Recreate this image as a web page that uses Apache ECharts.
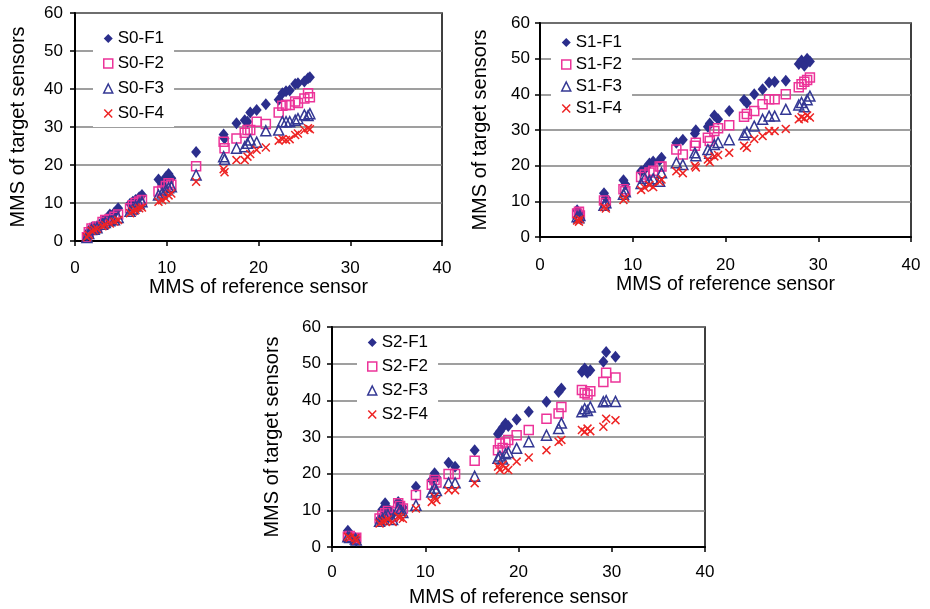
<!DOCTYPE html>
<html>
<head>
<meta charset="utf-8">
<script src="https://cdn.jsdelivr.net/npm/echarts@6/dist/echarts.min.js"></script>
<style>
  html, body { margin: 0; padding: 0; background: #fff; }
  #chart { width: 930px; height: 609px; }
</style>
</head>
<body>
<div id="chart"></div>
<script>
// Reference-sensor MMS per sample and the four target-sensor readings, per sensor group

// S0
const refS0 = [1.3, 1.5, 1.8, 2.1, 2.4, 3.0, 3.3, 3.8, 4.3, 4.7, 6.0, 6.3, 6.6, 7.0, 7.3, 9.1, 9.5, 9.9, 10.2, 10.5,
  13.2, 16.2, 16.3, 17.6, 18.5, 18.8, 19.1, 19.8, 20.8, 22.2, 22.6, 23.0, 23.4, 24.0, 24.3, 25.0, 25.4, 25.6];
const s0f1 = [1.2, 2.5, 3.5, 3.6, 3.9, 5.2, 5.6, 7.0, 7.5, 8.6, 9.8, 10.3, 10.8, 11.5, 12.1, 16.2, 14.9, 16.8, 17.6, 16.5,
  23.4, 28.0, 27.0, 31.0, 31.8, 31.4, 33.8, 34.5, 36.0, 37.2, 38.9, 39.4, 39.6, 41.3, 41.5, 42.0, 42.8, 43.1];
const s0f2 = [1.0, 2.3, 3.3, 3.4, 3.8, 5.0, 5.5, 5.8, 6.4, 7.0, 8.6, 9.4, 10.0, 10.4, 10.8, 13.0, 13.3, 14.5, 15.2, 14.8,
  19.7, 26.1, 24.4, 27.0, 28.5, 29.2, 29.2, 31.4, 30.8, 33.8, 35.6, 35.8, 35.8, 36.7, 36.3, 37.5, 38.9, 37.8];
const s0f3 = [0.9, 2.0, 3.0, 3.1, 3.5, 4.4, 4.9, 5.3, 5.6, 6.2, 7.8, 8.4, 9.2, 9.8, 10.3, 12.1, 12.6, 13.4, 14.0, 14.3,
  17.4, 22.2, 21.5, 24.4, 24.8, 25.7, 26.6, 26.0, 29.0, 29.2, 31.4, 31.4, 31.4, 31.8, 32.2, 33.2, 33.0, 33.5];
const s0f4 = [1.0, 1.6, 2.7, 2.9, 3.2, 3.9, 4.2, 4.6, 5.1, 5.5, 7.3, 7.8, 8.2, 8.6, 8.8, 10.3, 10.7, 11.2, 12.0, 12.5,
  15.6, 18.9, 18.1, 21.3, 21.3, 22.2, 22.9, 24.0, 24.6, 26.4, 26.8, 26.6, 26.8, 27.9, 28.3, 29.2, 29.7, 29.4];

// S1
const refS1 = [4.0, 4.2, 4.3, 6.9, 7.1, 9.0, 9.2, 10.9, 11.3, 11.8, 12.2, 12.9, 13.1, 14.7, 15.4, 16.7, 16.8, 18.1, 18.3,
  18.8, 19.2, 20.4, 22.0, 22.3, 23.1, 24.0, 24.7, 25.3, 26.5, 27.9, 28.2, 28.5, 28.8, 29.1];
const s1f1 = [7.5, 6.8, 6.3, 12.3, 11.0, 15.9, 14.8, 18.4, 19.0, 20.6, 21.2, 21.5, 22.2, 26.4, 27.3, 29.0, 29.9, 30.9, 31.8,
  34.1, 33.0, 35.3, 38.4, 37.6, 40.0, 41.4, 43.3, 43.5, 43.8, 48.5, 49.5, 48.0, 50.0, 49.2];
const s1f2 = [6.6, 7.1, 6.0, 10.2, 9.5, 13.4, 12.8, 16.8, 17.5, 18.1, 18.6, 19.8, 19.8, 24.5, 23.1, 25.6, 26.4, 27.8, 26.9,
  29.7, 30.5, 31.3, 33.7, 34.5, 35.3, 37.2, 38.6, 38.6, 40.0, 42.0, 42.8, 43.5, 44.0, 44.7];
const s1f3 = [5.7, 5.4, 6.0, 8.9, 9.6, 12.0, 12.7, 15.0, 16.5, 15.8, 16.3, 15.6, 18.0, 20.8, 20.3, 23.6, 22.8, 24.5, 23.5,
  25.9, 26.5, 27.3, 28.7, 29.4, 31.1, 33.0, 33.9, 33.9, 35.8, 37.0, 37.7, 36.5, 38.5, 39.5];
const s1f4 = [4.6, 4.3, 5.0, 8.4, 8.0, 10.4, 11.0, 13.2, 13.8, 14.6, 14.0, 15.5, 16.1, 18.4, 17.9, 20.0, 19.5, 21.7, 21.0,
  22.6, 23.0, 23.6, 25.6, 25.0, 27.5, 28.3, 29.7, 29.7, 30.3, 33.0, 33.6, 33.2, 34.1, 33.5];

// S2
const refS2 = [1.7, 1.9, 2.5, 2.6, 5.1, 5.4, 5.7, 6.0, 6.5, 7.1, 7.3, 7.6, 9.0, 10.7, 11.0, 11.2, 12.5, 13.2, 15.3, 17.8,
  18.0, 18.3, 18.6, 18.9, 19.8, 21.1, 23.0, 24.3, 24.6, 26.8, 27.1, 27.4, 27.7, 29.1, 29.4, 30.4];
const s2f1 = [4.4, 3.5, 2.4, 1.8, 7.6, 10.2, 11.9, 10.5, 9.0, 12.3, 11.6, 10.8, 16.4, 18.3, 20.1, 19.0, 23.0, 21.9, 26.4, 30.8,
  31.5, 32.6, 33.7, 33.0, 34.8, 36.9, 39.6, 42.3, 43.2, 47.8, 48.7, 47.5, 48.2, 50.5, 53.2, 51.9];
const s2f2 = [2.8, 3.0, 2.2, 2.5, 7.8, 8.5, 9.2, 9.8, 8.2, 11.9, 11.2, 10.5, 14.2, 17.0, 18.3, 17.6, 19.9, 19.9, 23.5, 26.4,
  28.2, 27.0, 28.5, 29.2, 30.5, 31.9, 35.0, 36.4, 38.2, 42.8, 42.0, 41.6, 42.5, 45.0, 47.5, 46.2];
const s2f3 = [2.8, 2.6, 2.2, 1.9, 7.0, 7.6, 8.4, 8.8, 7.5, 10.5, 10.0, 9.4, 11.4, 15.0, 16.0, 15.4, 17.5, 17.5, 19.3, 24.2,
  24.8, 24.0, 25.4, 25.8, 26.9, 28.7, 30.5, 32.3, 33.8, 36.9, 37.7, 37.2, 38.2, 39.6, 39.9, 39.7];
const s2f4 = [2.8, 2.5, 2.4, 1.8, 6.4, 6.9, 7.1, 7.6, 6.8, 8.3, 8.0, 7.7, 10.5, 12.3, 13.7, 12.8, 15.5, 15.5, 17.4, 21.9,
  21.0, 22.4, 21.5, 21.0, 23.3, 24.4, 26.4, 28.7, 29.2, 31.9, 31.4, 32.3, 31.6, 32.8, 35.0, 34.6];

const xTicks = [0, 10, 20, 30, 40];
const yTicks = [0, 10, 20, 30, 40, 50, 60];
const xTitle = 'MMS of reference sensor';
const yTitle = 'MMS of target sensors';

const FONT = '"Liberation Sans", Arial, sans-serif';
const C_F1 = '#2B2E8C';
const C_F2 = '#EC3399';
const C_F3 = '#343894';
const C_F4 = '#EE2424';
const CROSS = 'path://M0,1.2 L1.2,0 L5,3.8 L8.8,0 L10,1.2 L6.2,5 L10,8.8 L8.8,10 L5,6.2 L1.2,10 L0,8.8 L3.8,5 Z';

const groups = [
  { tag: 'S0', ref: refS0, ys: [s0f1, s0f2, s0f3, s0f4],
    grid: { left: 75, top: 13, width: 367, height: 228 },
    legend: { left: 93, top: 25, gap: 8, textGap: 8 }, xGap: 36, yGap: 47, xMargin: 19, yMargin: 12 },
  { tag: 'S1', ref: refS1, ys: [s1f1, s1f2, s1f3, s1f4],
    grid: { left: 540, top: 23, width: 371, height: 214 },
    legend: { left: 551, top: 29, gap: 5, textGap: 7 }, xGap: 37, yGap: 50, xMargin: 20, yMargin: 10 },
  { tag: 'S2', ref: refS2, ys: [s2f1, s2f2, s2f3, s2f4],
    grid: { left: 332, top: 327, width: 373, height: 220 },
    legend: { left: 357, top: 329, gap: 7, textGap: 7 }, xGap: 41, yGap: 50, xMargin: 17, yMargin: 11 }
];

const styles = [
  { symbol: 'diamond', size: [10, 12], item: { color: C_F1, opacity: 1 }, legendItem: { color: C_F1 } },
  { symbol: 'rect', size: 9, item: { color: 'rgba(0,0,0,0)', borderColor: C_F2, borderWidth: 1.5, opacity: 1 },
    legendItem: { color: 'rgba(0,0,0,0)', borderColor: C_F2, borderWidth: 1.5 } },
  { symbol: 'triangle', size: 10, item: { color: 'rgba(0,0,0,0)', borderColor: C_F3, borderWidth: 1.5, opacity: 1 },
    legendItem: { color: 'rgba(0,0,0,0)', borderColor: C_F3, borderWidth: 1.5 } },
  { symbol: CROSS, size: 9, item: { color: C_F4, opacity: 1 }, legendItem: { color: C_F4 } }
];

const grids = [], xAxes = [], yAxes = [], legends = [], series = [];

groups.forEach((g, gi) => {
  grids.push(Object.assign({ show: true, borderColor: '#000', borderWidth: 1.5, backgroundColor: 'transparent' }, g.grid));

  xAxes.push({
    gridIndex: gi, type: 'value', min: xTicks[0], max: xTicks[xTicks.length - 1], interval: xTicks[1] - xTicks[0],
    name: xTitle, nameLocation: 'middle', nameGap: g.xGap,
    nameTextStyle: { fontFamily: FONT, fontSize: 19.5, color: '#000' },
    axisLine: { show: true, lineStyle: { color: '#000', width: 2 } },
    axisTick: { show: true, inside: false, length: 5, lineStyle: { color: '#000', width: 1.5 } },
    axisLabel: { fontFamily: FONT, fontSize: 17, color: '#000', margin: g.xMargin },
    splitLine: { show: false }
  });

  yAxes.push({
    gridIndex: gi, type: 'value', min: yTicks[0], max: yTicks[yTicks.length - 1], interval: yTicks[1] - yTicks[0],
    name: yTitle, nameLocation: 'middle', nameGap: g.yGap, nameRotate: 90,
    nameTextStyle: { fontFamily: FONT, fontSize: 20, color: '#000' },
    axisLine: { show: true, lineStyle: { color: '#000', width: 2 } },
    axisTick: { show: true, inside: false, length: 5, lineStyle: { color: '#000', width: 1.5 } },
    axisLabel: { fontFamily: FONT, fontSize: 17, color: '#000', margin: g.yMargin },
    splitLine: { show: true, lineStyle: { color: '#7f7f7f', width: 1.5 } }
  });

  const names = [1, 2, 3, 4].map(k => g.tag + '-F' + k);

  legends.push({
    orient: 'vertical', left: g.legend.left, top: g.legend.top,
    itemGap: g.legend.gap, itemWidth: 9, itemHeight: 9, itemTextGap: g.legend.textGap,
    padding: [5, 10, 5, 10], backgroundColor: '#fff',
    selectedMode: false,
    textStyle: { fontFamily: FONT, fontSize: 17, color: '#000' },
    data: names.map((n, k) => ({ name: n, icon: styles[k].symbol, itemStyle: styles[k].legendItem }))
  });

  names.forEach((n, k) => {
    series.push({
      name: n, type: 'scatter', xAxisIndex: gi, yAxisIndex: gi,
      symbol: styles[k].symbol, symbolSize: styles[k].size,
      itemStyle: styles[k].item,
      emphasis: { disabled: true },
      z: 2 + k,
      data: g.ref.map((x, i) => [x, g.ys[k][i]])
    });
  });
});

const chart = echarts.init(document.getElementById('chart'), null, { renderer: 'canvas' });
chart.setOption({
  animation: false,
  backgroundColor: '#fff',
  grid: grids,
  xAxis: xAxes,
  yAxis: yAxes,
  legend: legends,
  series: series
});
</script>
</body>
</html>
